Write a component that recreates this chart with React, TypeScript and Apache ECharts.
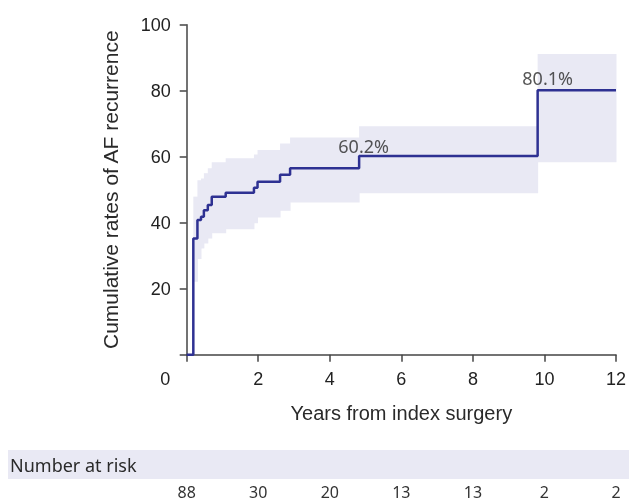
import React, { useEffect, useRef } from "react";
import * as echarts from "echarts";

// Kaplan-Meier style cumulative rate (step function, value holds from time onward)
const times = [0, 0.185, 0.3, 0.4, 0.48, 0.59, 0.7, 1.09, 1.88, 1.98, 2.61, 2.89, 4.82, 9.81, 12];
const cumRate = [0, 35.2, 40.8, 41.8, 43.8, 45.4, 47.9, 49.1, 50.6, 52.4, 54.5, 56.5, 60.2, 80.1, 80.1];

// Confidence band per interval [start, end)
const bandStart = [0.185, 0.3, 0.4, 0.48, 0.59, 0.7, 1.09, 1.88, 1.98, 2.61, 2.89, 4.82, 9.81];
const bandEnd = [0.3, 0.4, 0.48, 0.59, 0.7, 1.09, 1.88, 1.98, 2.61, 2.89, 4.82, 9.81, 12];
const bandLower = [22.1, 29.0, 32.2, 33.7, 35.2, 36.8, 38.0, 39.8, 41.6, 43.6, 46.1, 48.9, 58.3];
const bandUpper = [47.9, 52.9, 53.4, 55.0, 56.5, 58.3, 59.5, 60.7, 62.0, 64.0, 65.8, 69.2, 91.1];

// Annotated values
const annotTimes = [4.82, 9.81];
const annotValues = [60.2, 80.1];

// Number at risk
const riskTimes = [0, 2, 4, 6, 8, 10, 12];
const riskCounts = [88, 30, 20, 13, 13, 2, 2];

const xTicks = [0, 2, 4, 6, 8, 10, 12];
const yTicks = [0, 20, 40, 60, 80, 100];

const LINE_COLOR = "#2e3192";
const BAND_COLOR = "#e9e9f4";
const AXIS_COLOR = "#444";
const SANS = '"Liberation Sans", Arial, sans-serif';
const NOTO = '"Noto Sans", sans-serif';

export default function App() {
  const ref = useRef<HTMLDivElement>(null);

  useEffect(() => {
    if (!ref.current) return;
    const chart = echarts.init(ref.current, undefined, { renderer: "svg" });

    const bandData = bandStart.map((s, i) => [s, bandEnd[i], bandLower[i], bandUpper[i]]);
    const lineData = times.map((t, i) => [t, cumRate[i]]);
    const annotOffsets = [
      [4.5, -1],
      [10, -3],
    ];
    const annotData = annotTimes.map((t, i) => ({
      value: [t, annotValues[i]],
      label: { offset: annotOffsets[i] },
    }));

    const option: any = {
      animation: false,
      grid: [
        { left: 186.7, right: 13, top: 24.7, bottom: 148.3 },
        { left: 186.7, right: 13, top: 480, height: 1 },
      ],
      xAxis: [
        {
          type: "value",
          gridIndex: 0,
          min: xTicks[0],
          max: xTicks[xTicks.length - 1],
          interval: 2,
          name: "Years from index surgery",
          nameLocation: "middle",
          nameGap: 48,
          nameTextStyle: { fontFamily: SANS, fontSize: 20, color: "#2a2a2a" },
          axisLine: { show: true, onZero: false, lineStyle: { color: AXIS_COLOR, width: 1.5 } },
          axisTick: { show: true, length: 7, lineStyle: { color: AXIS_COLOR, width: 1.5 } },
          axisLabel: {
            margin: 15,
            fontFamily: SANS,
            fontSize: 18,
            color: "#222",
            formatter: (v: number) => (v === 0 ? "" : String(v)),
          },
          splitLine: { show: false },
        },
        {
          type: "value",
          gridIndex: 1,
          min: 0,
          max: 12,
          interval: 2,
          axisLine: { show: false },
          axisTick: { show: false },
          splitLine: { show: false },
          axisLabel: {
            margin: 4,
            fontFamily: NOTO,
            fontSize: 16,
            lineHeight: 13,
            color: "#333",
            formatter: (v: number) => {
              const idx = riskTimes.indexOf(v);
              return idx >= 0 ? String(riskCounts[idx]) : "";
            },
          },
        },
      ],
      yAxis: [
        {
          type: "value",
          gridIndex: 0,
          min: yTicks[0],
          max: yTicks[yTicks.length - 1],
          interval: 20,
          name: "Cumulative rates of AF recurrence",
          nameLocation: "middle",
          nameGap: 66,
          nameRotate: 90,
          nameTextStyle: { fontFamily: SANS, fontSize: 21, color: "#2a2a2a" },
          axisLine: { show: true, onZero: false, lineStyle: { color: AXIS_COLOR, width: 1.5 } },
          axisTick: { show: true, length: 7, lineStyle: { color: AXIS_COLOR, width: 1.5 } },
          axisLabel: {
            margin: 16,
            fontFamily: SANS,
            fontSize: 18,
            color: "#222",
            formatter: (v: number) => (v === 0 ? "" : String(v)),
          },
          splitLine: { show: false },
        },
        { type: "value", gridIndex: 1, show: false, min: 0, max: 1 },
      ],
      series: [
        {
          type: "custom",
          xAxisIndex: 0,
          yAxisIndex: 0,
          data: bandData,
          encode: { x: [0, 1], y: [2, 3] },
          z: 1,
          renderItem: (params: any, api: any) => {
            const p0 = api.coord([api.value(0), api.value(3)]);
            const p1 = api.coord([api.value(1), api.value(2)]);
            return {
              type: "rect",
              shape: { x: p0[0], y: p0[1], width: p1[0] - p0[0] + 0.5, height: p1[1] - p0[1] },
              style: { fill: BAND_COLOR },
            };
          },
          silent: true,
        },
        {
          type: "line",
          xAxisIndex: 0,
          yAxisIndex: 0,
          data: lineData,
          step: "end",
          symbol: "none",
          z: 3,
          lineStyle: { color: LINE_COLOR, width: 2.5 },
          silent: true,
        },
        {
          type: "scatter",
          xAxisIndex: 0,
          yAxisIndex: 0,
          data: annotData,
          symbolSize: 0,
          z: 4,
          label: {
            show: true,
            position: "top",
            distance: 0,
            fontFamily: NOTO,
            fontSize: 18,
            color: "#2a2a2a",
            formatter: (p: any) => p.value[1].toFixed(1) + "%",
          },
          silent: true,
        },
      ],
      graphic: [
        {
          type: "rect",
          shape: { x: 8, y: 450, width: 621, height: 29 },
          style: { fill: BAND_COLOR },
          silent: true,
        },
        {
          type: "text",
          x: 10,
          y: 464.7,
          style: {
            text: "Number at risk",
            font: '18px "Noto Sans", sans-serif',
            fill: "#2a2a2a",
            align: "left",
            verticalAlign: "middle",
          },
          silent: true,
        },
        {
          type: "text",
          x: 165.3,
          y: 379.3,
          style: {
            text: "0",
            font: '18px "Liberation Sans", Arial, sans-serif',
            fill: "#222",
            align: "center",
            verticalAlign: "middle",
          },
          silent: true,
        },
      ],
    };

    chart.setOption(option);
    return () => chart.dispose();
  }, []);

  return (
    <div
      ref={ref}
      style={{ position: "fixed", left: 0, top: 0, width: 629, height: 503 }}
    />
  );
}
